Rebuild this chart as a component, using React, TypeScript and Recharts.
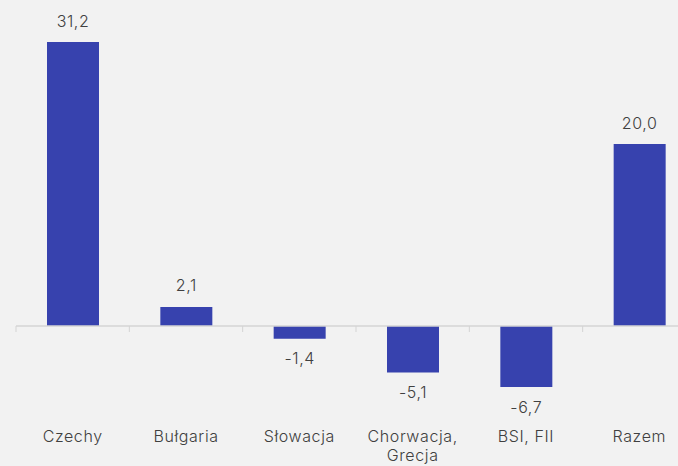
import { BarChart, Bar, XAxis, YAxis, ReferenceLine, LabelList } from 'recharts'

const categories = ['Czechy', 'Bułgaria', 'Słowacja', 'Chorwacja,\nGrecja', 'BSI, FII', 'Razem']
const values = [31.2, 2.1, -1.4, -5.1, -6.7, 20.0]

const data = categories.map((name, i) => ({ name, value: values[i] }))

const WIDTH = 700
const HEIGHT = 466
const TOP = 16.6
const PLOT_H = 382.2
const DOMAIN: [number, number] = [-8, 34]
const ZERO_Y = TOP + (DOMAIN[1] / (DOMAIN[1] - DOMAIN[0])) * PLOT_H
const FONT = 'Inter, "Open Sans", sans-serif'
const TEXT = '#404040'
const AXIS = '#d4d4d4'

const fmt = (v: number) => v.toFixed(1).replace('.', ',')

function CategoryTick(props: any) {
  const { x, payload } = props
  const lines = String(payload.value).split('\n')
  const half = payload.offset ?? 0
  return (
    <g>
      <line x1={x - half} x2={x - half} y1={ZERO_Y} y2={ZERO_Y + 6} stroke={AXIS} />
      <text x={x} y={442} textAnchor="middle" fill={TEXT} fontSize={16} fontWeight={300} fontFamily={FONT} letterSpacing={0.6}>
        {lines.map((l, i) => (
          <tspan key={i} x={x} dy={i === 0 ? 0 : 19}>
            {l}
          </tspan>
        ))}
      </text>
    </g>
  )
}

function ValueLabel(props: any) {
  const { x, y, width, height, value } = props
  const top = Math.min(y, y + height)
  const bottom = Math.max(y, y + height)
  const cy = value >= 0 ? top - 21 : bottom + 20
  return (
    <text x={x + width / 2} y={cy} dy="0.35em" textAnchor="middle" fill={TEXT} fontSize={16} fontWeight={300} fontFamily={FONT} letterSpacing={0.6}>
      {fmt(value)}
    </text>
  )
}

export default function App() {
  return (
    <div style={{ position: 'absolute', left: 0, top: 0, width: 678, height: 466, overflow: 'hidden', background: '#f2f2f2' }}>
      <BarChart
        width={WIDTH}
        height={HEIGHT}
        data={data}
        margin={{ top: TOP, right: 4, left: 16, bottom: 0 }}
        barCategoryGap={0}
      >
        <XAxis
          dataKey="name"
          axisLine={false}
          tickLine={false}
          height={HEIGHT - TOP - PLOT_H}
          tick={<CategoryTick />}
          interval={0}
        />
        <YAxis hide domain={DOMAIN} width={0} />
        <ReferenceLine y={0} stroke={AXIS} strokeWidth={1.5} />
        <Bar dataKey="value" fill="#3742ae" barSize={52} isAnimationActive={false}>
          <LabelList dataKey="value" content={<ValueLabel />} />
        </Bar>
      </BarChart>
    </div>
  )
}
